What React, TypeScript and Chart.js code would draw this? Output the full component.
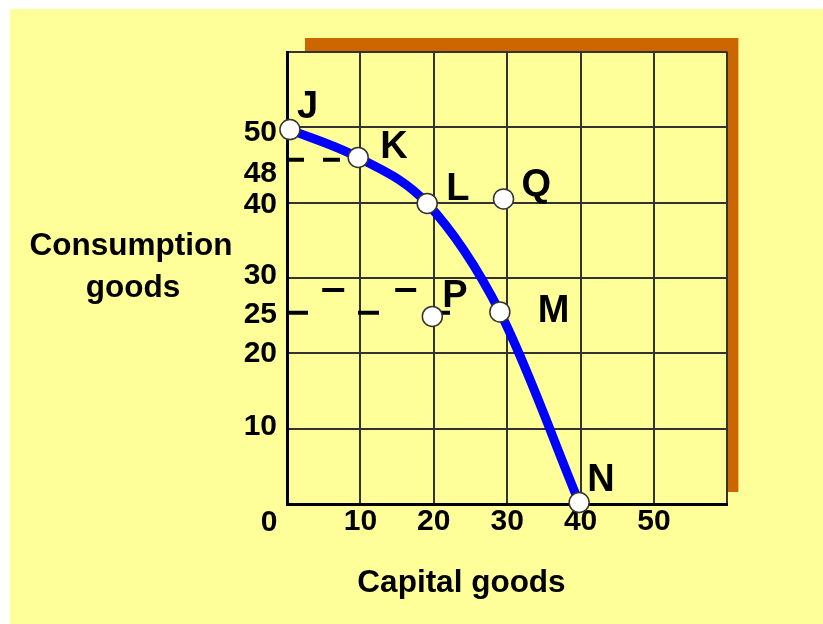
import React, { useEffect, useRef } from 'react';
import { Chart, registerables } from 'chart.js';

Chart.register(...registerables);

// ---- data ----
const pointNames = ['J', 'K', 'L', 'Q', 'P', 'M', 'N'];
const capitalGoods = [0.4, 9.7, 19.1, 29.5, 19.8, 29.0, 39.8];
const consumptionGoods = [49.7, 46.0, 39.9, 40.5, 24.9, 25.5, 0.2];
const frontierNames = ['J', 'K', 'L', 'M', 'N'];

const kGuideX = [0, 9.7];
const kGuideY = [45.7, 45.7];
const pGuideX = [0, 22.3];
const pGuideY = [25.4, 25.4];
const pGuideUpperX = [4.8, 17.6];
const pGuideUpperY = [28.4, 28.4];

const xTickValues = [0, 10, 20, 30, 40, 50];
const xTickLabels = ['0', '10', '20', '30', '40', '50'];
const yTickLabels = ['50', '48', '40', '30', '25', '20', '10'];
const yTickAt = [49.3, 43.8, 39.7, 30.3, 25.1, 20.0, 10.3];

const xTitle = 'Capital goods';
const yTitle = ['Consumption', 'goods'];

// ---- styles ----
const FONT = '"Liberation Sans", Arial, Helvetica, sans-serif';
const YELLOW = '#ffff99';
const ORANGE = '#cc6600';
const BLUE = '#0000ff';
const GRID = '#333333';
const labelOffsets: Record<string, [number, number]> = {
  J: [7, -12],
  K: [22, 1],
  L: [19, -3],
  Q: [18, -3],
  P: [10, -9],
  M: [38, 10],
  N: [8, -11],
};

const toXY = (xs: number[], ys: number[]) => xs.map((x, i) => ({ x, y: ys[i] }));

const decorPlugin = {
  id: 'decor',
  beforeDraw(chart: any) {
    const { ctx, chartArea: a, width, height } = chart;
    ctx.save();
    ctx.fillStyle = '#ffffff';
    ctx.fillRect(0, 0, width, height);
    ctx.fillStyle = YELLOW;
    ctx.fillRect(10, 9, width - 10, height - 9);
    ctx.fillStyle = ORANGE;
    ctx.fillRect(a.left + 18, a.top - 14, a.right + 11 - (a.left + 18), a.bottom - 12 - (a.top - 14));
    ctx.fillStyle = YELLOW;
    ctx.fillRect(a.left, a.top, a.right - a.left, a.bottom - a.top);
    ctx.restore();
  },
  afterDatasetsDraw(chart: any) {
    const { ctx } = chart;
    const xs = chart.scales.x;
    const ys = chart.scales.y;
    ctx.save();
    ctx.fillStyle = '#000';
    ctx.font = `bold 38px ${FONT}`;
    ctx.textAlign = 'left';
    ctx.textBaseline = 'alphabetic';
    pointNames.forEach((n, i) => {
      const [dx, dy] = labelOffsets[n] || [10, -10];
      ctx.fillText(n, xs.getPixelForValue(capitalGoods[i]) + dx, ys.getPixelForValue(consumptionGoods[i]) + dy);
    });
    ctx.restore();
  },
  afterDraw(chart: any) {
    const { ctx, chartArea: a } = chart;
    const xs = chart.scales.x;
    ctx.save();
    ctx.fillStyle = '#000';
    // origin label
    ctx.font = `bold 30px ${FONT}`;
    ctx.textAlign = 'center';
    ctx.textBaseline = 'middle';
    ctx.fillText(xTickLabels[0], xs.getPixelForValue(xTickValues[0]) - 18, a.bottom + 19);
    // axis titles
    ctx.font = `bold 31.5px ${FONT}`;
    ctx.textBaseline = 'alphabetic';
    ctx.fillText(xTitle, a.left + 174.5, a.bottom + 88);
    ctx.fillText(yTitle[0], a.left - 156, a.top + 203);
    ctx.fillText(yTitle[1], a.left - 154, a.top + 245);
    ctx.restore();
  },
};

export default function App() {
  const ref = useRef<HTMLCanvasElement | null>(null);

  useEffect(() => {
    if (!ref.current) return;
    const points = toXY(capitalGoods, consumptionGoods);
    const frontier = frontierNames.map((n) => points[pointNames.indexOf(n)]);

    const chart = new Chart(ref.current, {
      type: 'scatter',
      data: {
        datasets: [
          {
            label: 'points',
            data: points,
            xAxisID: 'x',
            yAxisID: 'y',
            showLine: false,
            pointRadius: 10,
            pointBackgroundColor: '#ffffff',
            pointBorderColor: '#333333',
            pointBorderWidth: 1.5,
            clip: false as any,
          },
          {
            label: 'frontier',
            data: frontier,
            xAxisID: 'x',
            yAxisID: 'y',
            showLine: true,
            borderColor: BLUE,
            borderWidth: 9,
            cubicInterpolationMode: 'monotone',
            pointRadius: 0,
            clip: false as any,
          },
          {
            label: 'kGuide',
            data: toXY(kGuideX, kGuideY),
            xAxisID: 'x',
            yAxisID: 'y',
            showLine: true,
            borderColor: '#000',
            borderWidth: 4,
            borderDash: [17, 19],
            pointRadius: 0,
            clip: false as any,
          },
          {
            label: 'pGuide',
            data: toXY(pGuideX, pGuideY),
            xAxisID: 'x',
            yAxisID: 'y',
            showLine: true,
            borderColor: '#000',
            borderWidth: 4,
            borderDash: [21, 50],
            pointRadius: 0,
            clip: false as any,
          },
          {
            label: 'pGuideUpper',
            data: toXY(pGuideUpperX, pGuideUpperY),
            xAxisID: 'x',
            yAxisID: 'y',
            showLine: true,
            borderColor: '#000',
            borderWidth: 4,
            borderDash: [22, 51],
            pointRadius: 0,
            clip: false as any,
          },
        ],
      },
      options: {
        responsive: false,
        animation: false,
        events: [],
        layout: { padding: { left: 0, top: 52, right: 95.6, bottom: 80 } },
        plugins: { legend: { display: false }, tooltip: { enabled: false } },
        scales: {
          x: {
            type: 'linear',
            position: 'bottom',
            min: 0,
            max: 60,
            grid: { color: GRID, lineWidth: 2, drawTicks: false },
            border: { display: true, color: '#000000', width: 3 },
            ticks: {
              stepSize: 10,
              padding: 0,
              color: '#000000',
              font: { family: FONT, size: 30, weight: 'bold' },
              callback: (v: any) => {
                const i = xTickValues.indexOf(Number(v));
                return i > 0 ? xTickLabels[i] : '';
              },
            },
            afterFit: (s: any) => {
              s.height = 40;
            },
          },
          y: {
            type: 'linear',
            position: 'left',
            weight: 0,
            min: 0,
            max: 60,
            grid: { color: GRID, lineWidth: 2, drawTicks: false },
            border: { display: true, color: '#000000', width: 3 },
            ticks: { stepSize: 10, display: false },
            afterFit: (s: any) => {
              s.width = 0;
            },
          },
          yLab: {
            type: 'linear',
            position: 'left',
            axis: 'y',
            weight: 1,
            min: 0,
            max: 60,
            grid: { display: false, drawTicks: false },
            border: { display: false },
            ticks: {
              autoSkip: false,
              padding: 10,
              color: '#000000',
              font: { family: FONT, size: 30, weight: 'bold' },
              callback: (_v: any, i: number) => yTickLabels[i],
            },
            afterBuildTicks: (s: any) => {
              s.ticks = yTickAt.map((v) => ({ value: v }));
            },
            afterFit: (s: any) => {
              s.width = 287;
            },
          } as any,
        },
      } as any,
      plugins: [decorPlugin],
    });
    return () => chart.destroy();
  }, []);

  return (
    <div style={{ position: 'fixed', left: 0, top: 0, width: 823, height: 624 }}>
      <canvas ref={ref} width={823} height={624} style={{ display: 'block', width: 823, height: 624 }} />
    </div>
  );
}
